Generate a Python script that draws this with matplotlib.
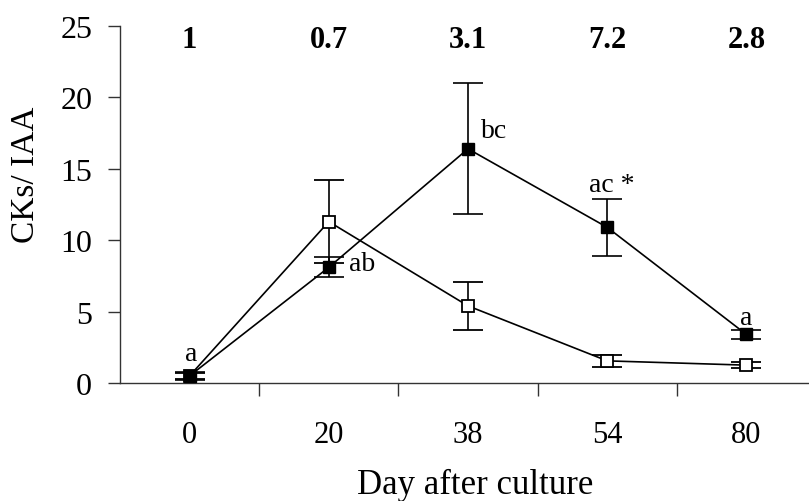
import matplotlib
matplotlib.use("Agg")
import matplotlib.pyplot as plt
from matplotlib.ticker import FixedLocator

plt.rcParams["font.family"] = ["Liberation Serif", "DejaVu Serif"]

# Sampling days (plotted as equally spaced categories)
days = ["0", "20", "38", "54", "80"]

# CKs / IAA ratio, filled squares and open squares
filled_mean = [0.5, 8.1, 16.4, 10.9, 3.4]
filled_err = [0.3, 0.7, 4.6, 2.0, 0.3]
open_mean = [0.5, 11.3, 5.4, 1.55, 1.25]
open_err = [0.2, 2.9, 1.7, 0.4, 0.2]

# Ratio filled/open shown above each day
fold = ["1", "0.7", "3.1", "7.2", "2.8"]

# Significance letters next to the filled series
letters = ["a", "ab", "bc", "ac *", "a"]
letter_offsets = [(1, 16), (24, 3), (19, 13), (3, 31), (0, 12)]

fig = plt.figure(figsize=(8.09, 5.02), dpi=100)
ax = fig.add_axes([120 / 809, 118 / 502, 696 / 809, 357 / 502])

x = list(range(len(days)))

ax.errorbar(x, open_mean, yerr=open_err, color="black", lw=1.2,
            marker="s", ms=8.5, mfc="white", mec="black", mew=1.3,
            capsize=11, capthick=1.2, elinewidth=1.2, zorder=2)
ax.errorbar(x, filled_mean, yerr=filled_err, color="black", lw=1.2,
            marker="s", ms=8.5, mfc="black", mec="black",
            capsize=11, capthick=1.2, elinewidth=1.2, zorder=3)

for i, (lab, off) in enumerate(zip(letters, letter_offsets)):
    ax.annotate(lab, (i, filled_mean[i]), xytext=off, textcoords="offset points",
                ha="center", va="center", fontsize=20)

for i, f in enumerate(fold):
    ax.text(i, 24.05, f, ha="center", va="center", fontsize=22, fontweight="bold")

ax.set_xlim(-0.5, 4.5)
ax.set_ylim(0, 25)

ax.spines["top"].set_visible(False)
ax.spines["right"].set_visible(False)
for s in ("left", "bottom"):
    ax.spines[s].set_color("#333333")
    ax.spines[s].set_linewidth(1.0)

ax.set_xticks(x)
ax.set_xticklabels(days)
ax.xaxis.set_minor_locator(FixedLocator([0.5, 1.5, 2.5, 3.5]))
ax.tick_params(axis="x", which="major", length=0, pad=27, labelsize=22)
ax.tick_params(axis="x", which="minor", direction="out", length=9, width=1.0, color="#333333")

ax.set_yticks([0, 5, 10, 15, 20, 25])
ax.tick_params(axis="y", direction="out", length=9, width=1.0, color="#333333",
               pad=11, labelsize=23)

ax.set_xlabel("Day after culture", fontsize=25)
ax.xaxis.set_label_coords((475 - 120) / 696, -(494 - 384) / 357)
ax.xaxis.label.set_va("baseline")
ax.set_ylabel("CKs/ IAA", fontsize=24)
ax.yaxis.set_label_coords(-(120 - 26) / 696, (384 - 175) / 357)
ax.yaxis.label.set_va("center")

fig.savefig("out.png", dpi=100, facecolor="white")
